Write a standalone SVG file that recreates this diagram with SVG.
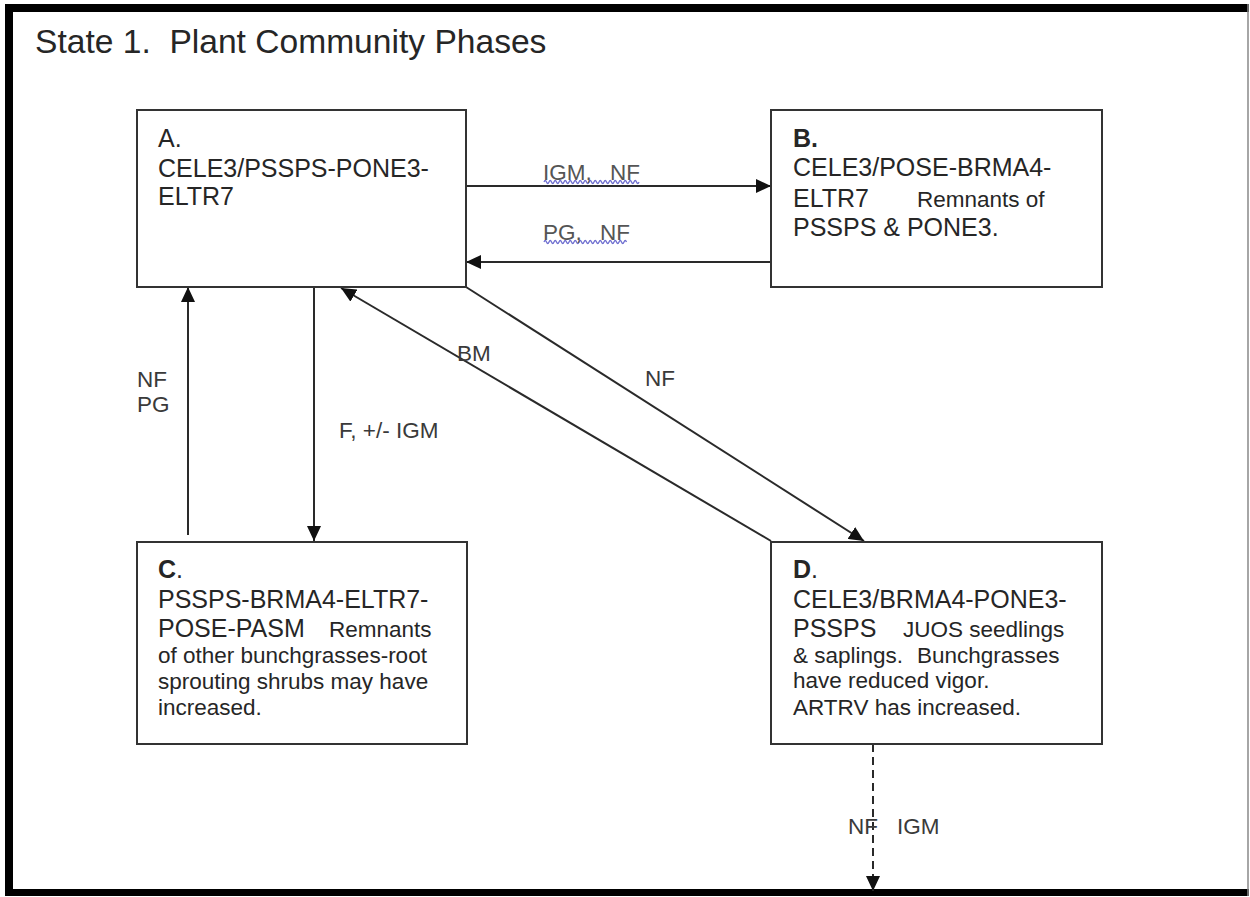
<svg xmlns="http://www.w3.org/2000/svg" width="1250" height="897" viewBox="0 0 1250 897">
<style>
text{font-family:"Liberation Sans",Arial,sans-serif;fill:#262626}
.code{font-size:25px}
.desc{font-size:22.5px}
.lbl{font-size:22.5px;fill:#3a3a3a}
.box{fill:#fff;stroke:#333;stroke-width:2}
.conn{stroke:#2a2a2a;stroke-width:2;fill:none}
.dash{stroke-dasharray:8 5}
.squig{fill:none;stroke:#6f6fd0;stroke-width:1.3}
</style>
<defs>
<marker id="ah" markerUnits="userSpaceOnUse" markerWidth="16" markerHeight="14" refX="15" refY="7" orient="auto">
<path d="M0,0 L15,7 L0,14 z" fill="#111"/>
</marker>
</defs>
<rect width="1250" height="897" fill="#fff"/>
<g id="frame">
<line x1="5" y1="8" x2="1249" y2="8" stroke="#000" stroke-width="8"/>
<line x1="9" y1="4" x2="9" y2="896" stroke="#000" stroke-width="8"/>
<line x1="5" y1="892.5" x2="1249" y2="892.5" stroke="#000" stroke-width="7"/>
<line x1="1248" y1="4" x2="1248" y2="896" stroke="#888" stroke-width="1.5"/>
</g>
<text id="title" x="35" y="53" style="font-size:33.6px" xml:space="preserve">State 1.  Plant Community Phases</text>
<g id="connectors">
<line class="conn" x1="466" y1="186" x2="771" y2="186" marker-end="url(#ah)"/>
<line class="conn" x1="771" y1="262" x2="466" y2="262" marker-end="url(#ah)"/>
<line class="conn" x1="188" y1="535" x2="188" y2="287" marker-end="url(#ah)"/>
<line class="conn" x1="314" y1="287" x2="314" y2="541" marker-end="url(#ah)"/>
<line class="conn" x1="771" y1="541" x2="341" y2="288" marker-end="url(#ah)"/>
<line class="conn" x1="466" y1="287" x2="864" y2="541" marker-end="url(#ah)"/>
<line class="conn dash" x1="873" y1="744" x2="873" y2="891" marker-end="url(#ah)"/>
<path class="squig" d="M544,182 q1.25,-3 2.5,0 t2.5,0 t2.5,0 t2.5,0 t2.5,0 t2.5,0 t2.5,0 t2.5,0 t2.5,0 t2.5,0 t2.5,0 t2.5,0 t2.5,0 t2.5,0 t2.5,0 t2.5,0 t2.5,0 t2.5,0 t2.5,0 t2.5,0 t2.5,0 t2.5,0 t2.5,0 t2.5,0 t2.5,0 t2.5,0 t2.5,0 t2.5,0 t2.5,0 t2.5,0 t2.5,0 t2.5,0 t2.5,0 t2.5,0 t2.5,0 t2.5,0 t2.5,0 t2.5,0"/>
<path class="squig" d="M544,242 q1.25,-3 2.5,0 t2.5,0 t2.5,0 t2.5,0 t2.5,0 t2.5,0 t2.5,0 t2.5,0 t2.5,0 t2.5,0 t2.5,0 t2.5,0 t2.5,0 t2.5,0 t2.5,0 t2.5,0 t2.5,0 t2.5,0 t2.5,0 t2.5,0 t2.5,0 t2.5,0 t2.5,0 t2.5,0 t2.5,0 t2.5,0 t2.5,0 t2.5,0 t2.5,0 t2.5,0 t2.5,0 t2.5,0 t2.5,0"/>
<text class="lbl" x="543" y="180" style="fill:#555">IGM,</text>
<text class="lbl" x="610" y="180" style="fill:#555">NF</text>
<text class="lbl" x="543" y="240" style="fill:#555">PG,</text>
<text class="lbl" x="600" y="240" style="fill:#555">NF</text>
<text class="lbl" x="137" y="387">NF</text>
<text class="lbl" x="137" y="412">PG</text>
<text class="lbl" x="339" y="438">F, +/- IGM</text>
<text class="lbl" x="457" y="361">BM</text>
<text class="lbl" x="645" y="386">NF</text>
<text class="lbl" x="848" y="834">NF</text>
<text class="lbl" x="897" y="834">IGM</text>
</g>
<g id="nodeA">
<rect class="box" x="137" y="110" width="329" height="177"/>
<text class="code" x="158" y="147">A.</text>
<text class="code" x="158" y="177">CELE3/PSSPS-PONE3-</text>
<text class="code" x="158" y="205">ELTR7</text>
</g>
<g id="nodeB">
<rect class="box" x="771" y="110" width="331" height="177"/>
<text class="code" x="793" y="147" font-weight="bold">B.</text>
<text class="code" x="793" y="176">CELE3/POSE-BRMA4-</text>
<text class="code" x="793" y="207">ELTR7</text>
<text class="desc" x="917" y="207">Remnants of</text>
<text class="code" x="793" y="236">PSSPS &amp; PONE3.</text>
</g>
<g id="nodeC">
<rect class="box" x="137" y="542" width="330" height="202"/>
<text class="code" x="158" y="578"><tspan font-weight="bold">C</tspan>.</text>
<text class="code" x="158" y="608">PSSPS-BRMA4-ELTR7-</text>
<text class="code" x="158" y="637">POSE-PASM</text>
<text class="desc" x="329" y="637">Remnants</text>
<text class="desc" x="158" y="663">of other bunchgrasses-root</text>
<text class="desc" x="158" y="689">sprouting shrubs may have</text>
<text class="desc" x="158" y="715">increased.</text>
</g>
<g id="nodeD">
<rect class="box" x="771" y="542" width="331" height="202"/>
<text class="code" x="793" y="578"><tspan font-weight="bold">D</tspan>.</text>
<text class="code" x="793" y="608">CELE3/BRMA4-PONE3-</text>
<text class="code" x="793" y="637">PSSPS</text>
<text class="desc" x="903" y="637">JUOS seedlings</text>
<text class="desc" x="793" y="663">&amp; saplings.</text>
<text class="desc" x="917" y="663">Bunchgrasses</text>
<text class="desc" x="793" y="688">have reduced vigor.</text>
<text class="desc" x="793" y="715">ARTRV has increased.</text>
</g>
</svg>
